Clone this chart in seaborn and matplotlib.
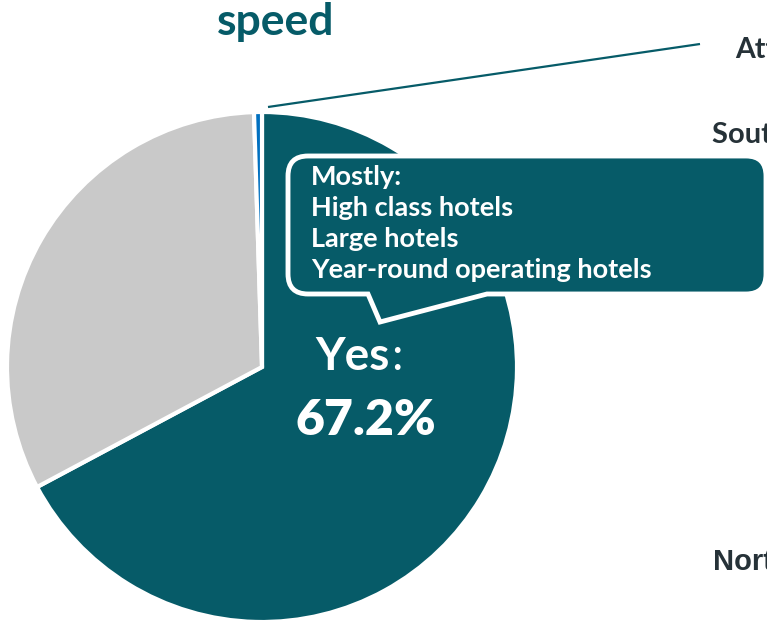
import matplotlib
matplotlib.use("Agg")
import matplotlib.pyplot as plt
import seaborn as sns
from matplotlib.path import Path
from matplotlib.patches import PathPatch

# Share of hotels answering the internet-speed question
categories = ["Yes", "No", "Don't know"]
shares = [67.2, 32.3, 0.5]
slice_colors = ["#065B68", "#C9C9C9", "#0070C0"]

callout_lines = ["Mostly:", "High class hotels", "Large hotels", "Year-round operating hotels"]
title_text = "speed"
side_labels = ["Attica", "South Aegean", "North Aegean"]

sns.set_theme(style="white")
plt.rcParams["font.family"] = ["Lato", "DejaVu Sans"]
palette = sns.color_palette(slice_colors)

W, H = 767, 620
fig = plt.figure(figsize=(W / 100, H / 100), dpi=100)
ax = fig.add_axes([0, 0, 1, 1])

teal = slice_colors[0]
dark = "#263238"

# pie
cx, cy, r = 262, H - 367, 255
ax.pie(shares, colors=palette, startangle=90, counterclock=False,
       center=(cx, cy), radius=r, frame=True,
       wedgeprops=dict(edgecolor="white", linewidth=3))
ax.set_xlim(0, W)
ax.set_ylim(0, H)
ax.axis("off")

# title fragment
ax.text(217, H - 35, title_text, color=teal, fontsize=32, fontweight="bold",
        ha="left", va="baseline")

# leader line from the small slice to its label
ax.plot([268, 700], [H - 107, H - 44], color=teal, lw=1.6, solid_capstyle="butt")
ax.text(735, H - 58, side_labels[0], color=dark, fontsize=20.5, fontweight="bold",
        ha="left", va="baseline")
ax.text(712, H - 143, side_labels[1], color=dark, fontsize=21, fontweight="bold",
        ha="left", va="baseline")
ax.text(713, H - 570, side_labels[2], color=dark, fontsize=21, fontweight="bold",
        family=["Liberation Sans", "DejaVu Sans"], ha="left", va="baseline")

# speech-bubble callout
x0, x1 = 288, 766
top, bot = H - 156, H - 294
rr = 20
verts = [
    (x0 + rr, top), (x1 - rr, top), (x1, top), (x1, top - rr),
    (x1, bot + rr), (x1, bot), (x1 - rr, bot),
    (487, bot), (380, H - 322), (368, bot),
    (x0 + rr, bot), (x0, bot), (x0, bot + rr),
    (x0, top - rr), (x0, top), (x0 + rr, top), (x0 + rr, top),
]
codes = [
    Path.MOVETO, Path.LINETO, Path.CURVE3, Path.CURVE3,
    Path.LINETO, Path.CURVE3, Path.CURVE3,
    Path.LINETO, Path.LINETO, Path.LINETO,
    Path.LINETO, Path.CURVE3, Path.CURVE3,
    Path.LINETO, Path.CURVE3, Path.CURVE3, Path.CLOSEPOLY,
]
ax.add_patch(PathPatch(Path(verts, codes), facecolor=teal, edgecolor="white",
                       lw=3.5, joinstyle="miter", zorder=5))

for i, line in enumerate(callout_lines):
    ax.text(311, H - (185 + 31 * i), line, color="white", fontsize=19.5,
            fontweight="bold", ha="left", va="baseline", zorder=6)

# value label on the main slice
ax.text(390, H - 370, categories[0], color="white", fontsize=33,
        fontweight="bold", ha="right", va="baseline", zorder=6)
ax.text(391, H - 370, ":", color="white", fontsize=33,
        ha="left", va="baseline", zorder=6)
ax.text(366, H - 435, f"{shares[0]:.1f}%", color="white", fontsize=36,
        fontweight="heavy", ha="center", va="baseline", zorder=6)

fig.savefig("out.png", dpi=100)
